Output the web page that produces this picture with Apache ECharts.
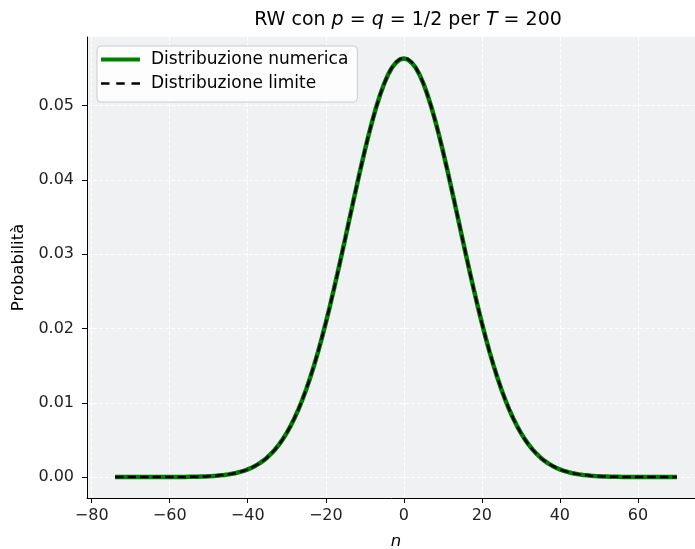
<!DOCTYPE html>
<html>
<head>
<meta charset="utf-8">
<script src="https://cdn.jsdelivr.net/npm/echarts@6/dist/echarts.min.js"></script>
<style>html,body{margin:0;padding:0;background:#fff}#c{width:695px;height:549px}</style>
</head>
<body>
<div id="c"></div>
<script>
// n positions (T = 200)
const nValues = [-74,-73,-72,-71,-70,-69,-68,-67,-66,-65,-64,-63,-62,-61,-60,-59,-58,-57,-56,-55,-54,-53,-52,-51,-50,-49,-48,-47,-46,-45,-44,-43,-42,-41,-40,-39,-38,-37,-36,-35,-34,-33,-32,-31,-30,-29,-28,-27,-26,-25,-24,-23,-22,-21,-20,-19,-18,-17,-16,-15,-14,-13,-12,-11,-10,-9,-8,-7,-6,-5,-4,-3,-2,-1,0,1,2,3,4,5,6,7,8,9,10,11,12,13,14,15,16,17,18,19,20,21,22,23,24,25,26,27,28,29,30,31,32,33,34,35,36,37,38,39,40,41,42,43,44,45,46,47,48,49,50,51,52,53,54,55,56,57,58,59,60,61,62,63,64,65,66,67,68,69,70];
const numerica = [0,0,0,0,0,0,0,0,0,0,0,0,0,0,0,
0.00001,0.00001,0.00002,0.00002,0.00003,0.00004,0.00005,0.00007,0.00008,0.00011,
0.00014,0.00018,0.00023,0.00028,0.00036,0.00045,0.00055,0.00069,0.00084,0.00103,
0.00126,0.00153,0.00184,0.00221,0.00264,0.00314,0.00371,0.00436,0.00510,0.00595,
0.00689,0.00795,0.00912,0.01041,0.01183,0.01337,0.01504,0.01682,0.01873,0.02076,
0.02288,0.02510,0.02739,0.02975,0.03215,0.03456,0.03698,0.03936,0.04169,0.04394,
0.04608,0.04808,0.04992,0.05156,0.05300,0.05421,0.05514,0.05579,0.05621,
0.05635,
0.05621,0.05579,0.05514,0.05421,0.05300,0.05156,0.04992,0.04808,0.04608,
0.04394,0.04169,0.03936,0.03698,0.03456,0.03215,0.02975,0.02739,0.02510,0.02288,
0.02076,0.01873,0.01682,0.01504,0.01337,0.01183,0.01041,0.00912,0.00795,0.00689,
0.00595,0.00510,0.00436,0.00371,0.00314,0.00264,0.00221,0.00184,0.00153,0.00126,
0.00103,0.00084,0.00069,0.00055,0.00045,0.00036,0.00028,0.00023,0.00018,0.00014,
0.00011,0.00008,0.00007,0.00005,0.00004,0.00003,0.00002,0.00002,0.00001,0.00001,
0,0,0,0,0,0,0,0,0,0,0];
const limite = [0,0,0,0,0,0,0,0,0,0,0,0,0,0,0,
0.00001,0.00001,0.00002,0.00002,0.00003,0.00004,0.00005,0.00007,0.00008,0.00011,
0.00014,0.00018,0.00023,0.00028,0.00036,0.00045,0.00055,0.00069,0.00084,0.00103,
0.00126,0.00153,0.00184,0.00221,0.00264,0.00314,0.00371,0.00436,0.00510,0.00595,
0.00689,0.00795,0.00912,0.01041,0.01183,0.01337,0.01504,0.01682,0.01873,0.02076,
0.02288,0.02510,0.02739,0.02975,0.03215,0.03456,0.03698,0.03936,0.04169,0.04394,
0.04608,0.04808,0.04992,0.05156,0.05300,0.05421,0.05516,0.05586,0.05628,
0.05642,
0.05628,0.05586,0.05516,0.05421,0.05300,0.05156,0.04992,0.04808,0.04608,
0.04394,0.04169,0.03936,0.03698,0.03456,0.03215,0.02975,0.02739,0.02510,0.02288,
0.02076,0.01873,0.01682,0.01504,0.01337,0.01183,0.01041,0.00912,0.00795,0.00689,
0.00595,0.00510,0.00436,0.00371,0.00314,0.00264,0.00221,0.00184,0.00153,0.00126,
0.00103,0.00084,0.00069,0.00055,0.00045,0.00036,0.00028,0.00023,0.00018,0.00014,
0.00011,0.00008,0.00007,0.00005,0.00004,0.00003,0.00002,0.00002,0.00001,0.00001,
0,0,0,0,0,0,0,0,0,0,0];
const xTicks = [-80,-60,-40,-20,0,20,40,60];
const yTicks = [0,0.01,0.02,0.03,0.04,0.05];

const FONT = 'DejaVu Sans';
const chart = echarts.init(document.getElementById('c'), null, {renderer:'canvas'});
const pairs = arr => nValues.map((n,i)=>[n, arr[i]]);
const dashIcon = 'path://M0,0 L8.5,0 L8.5,2.5 L0,2.5 Z M15.25,0 L23.75,0 L23.75,2.5 L15.25,2.5 Z M30.5,0 L39,0 L39,2.5 L30.5,2.5 Z';
const solidIcon = 'path://M0,0 L39,0 L39,4.2 L0,4.2 Z';
chart.setOption({
  animation: false,
  backgroundColor: '#ffffff',
  textStyle: {fontFamily: FONT},
  title: {
    text: '{r|RW con }{i|p}{r| = }{i|q}{r| = 1/2 per }{i|T}{r| = 200}',
    left: 403, top: 6, textAlign: 'center',
    textStyle: {
      fontWeight: 'normal',
      rich: {
        r: {fontFamily: FONT, fontSize: 19, color: '#000', fontWeight: 'normal'},
        i: {fontFamily: FONT, fontSize: 19, color: '#000', fontStyle: 'italic', fontWeight: 'normal'}
      }
    }
  },
  legend: {
    orient: 'vertical', left: 97, top: 46,
    padding: [5, 9, 10, 4],
    itemWidth: 39, itemHeight: 17, itemGap: 7,
    backgroundColor: 'rgba(255,255,255,0.85)',
    borderColor: '#cccccc', borderWidth: 1, borderRadius: 4,
    textStyle: {fontFamily: FONT, fontSize: 17, color: '#000', padding: [0,0,0,6]},
    data: [
      {name: 'Distribuzione numerica', icon: solidIcon, itemStyle: {color: '#008000'}},
      {name: 'Distribuzione limite', icon: dashIcon, itemStyle: {color: '#000000'}}
    ]
  },
  grid: {left: 87, right: -10, top: 37, bottom: 51, show: true, backgroundColor: '#eff1f3', borderWidth: 0,
    containLabel: false, outerBoundsMode: 'none'},
  xAxis: {
    type: 'value', min: -81.2, max: 77.2,
    name: 'n', nameLocation: 'middle', nameGap: 35,
    nameTextStyle: {fontFamily: FONT, fontSize: 16.5, fontStyle: 'italic', color: '#000'},
    axisLine: {show: true, onZero: false, lineStyle: {color: '#000', width: 1}},
    axisTick: {show: true, length: 5, lineStyle: {color: '#000'}, customValues: xTicks},
    axisLabel: {customValues: xTicks, fontFamily: FONT, fontSize: 16, color: '#222', margin: 10,
      formatter: v => v < 0 ? '\u2212' + Math.abs(v) : String(v)},
    splitLine: {show: true, lineStyle: {color: '#ffffff', width: 1, type: [4, 2]}}
  },
  yAxis: {
    type: 'value', min: -0.00282, max: 0.05924,
    name: 'Probabilità', nameLocation: 'middle', nameGap: 55,
    nameTextStyle: {fontFamily: FONT, fontSize: 16.5, color: '#000'},
    axisLine: {show: true, onZero: false, lineStyle: {color: '#000', width: 1}},
    axisTick: {show: true, length: 5, lineStyle: {color: '#000'}, customValues: yTicks},
    axisLabel: {customValues: yTicks, fontFamily: FONT, fontSize: 16, color: '#222', margin: 13,
      formatter: v => v.toFixed(2)},
    splitLine: {show: true, lineStyle: {color: '#ffffff', width: 1, type: [4, 2]}}
  },
  series: [
    {name: 'Distribuzione numerica', type: 'line', data: pairs(numerica), symbol: 'none',
      lineStyle: {color: '#008000', width: 4.5}, itemStyle: {color: '#008000'}, z: 2},
    {name: 'Distribuzione limite', type: 'line', data: pairs(limite), symbol: 'none',
      lineStyle: {color: '#000000', width: 2.5, type: [8.5, 4]}, itemStyle: {color: '#000'}, z: 3}
  ]
});
</script>
</body>
</html>
